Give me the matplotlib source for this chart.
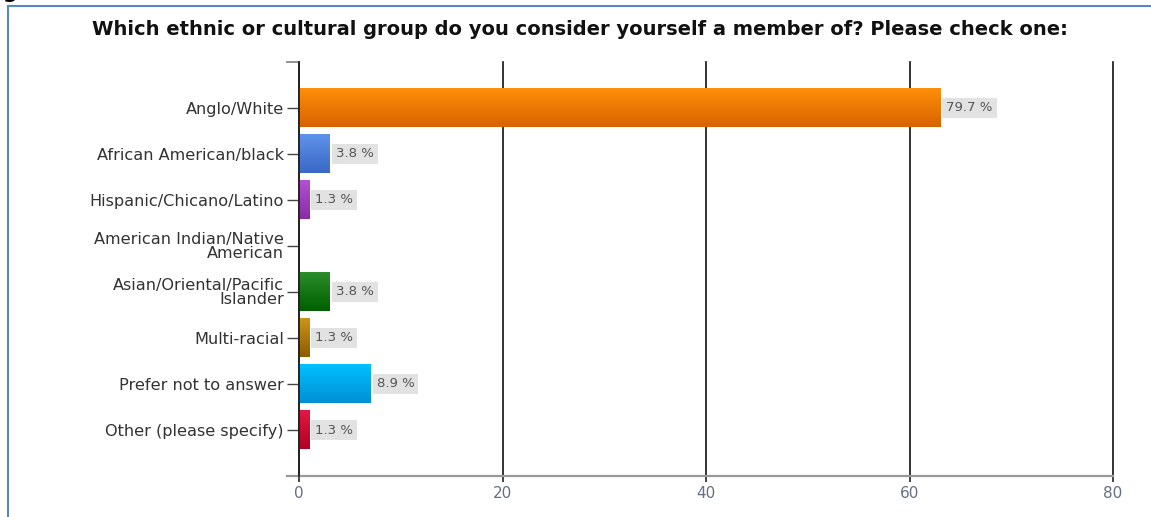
import matplotlib
matplotlib.use('Agg')
import matplotlib.pyplot as plt
import numpy as np
from matplotlib.lines import Line2D

# survey answers (counts) and the shares printed next to the bars
groups = ['Anglo/White', 'African American/black', 'Hispanic/Chicano/Latino',
          'American Indian/Native\nAmerican', 'Asian/Oriental/Pacific\nIslander',
          'Multi-racial', 'Prefer not to answer', 'Other (please specify)']
counts = [63, 3, 1, 0, 3, 1, 7, 1]
percents = ['79.7 %', '3.8 %', '1.3 %', '', '3.8 %', '1.3 %', '8.9 %', '1.3 %']
top_colors = ['#ff8f0a', '#5f92ea', '#b451d4', '#cccccc', '#2a8c2a', '#cc9418', '#00c0ff', '#e41844']
bottom_colors = ['#d86200', '#3a68c6', '#8a2aa6', '#aaaaaa', '#006000', '#8c5c00', '#0090d4', '#b00024']
xticks = [0, 20, 40, 60, 80]

fig = plt.figure(figsize=(11.51, 5.17), dpi=100)
ax = fig.add_axes([0.2598, 0.0793, 0.7072, 0.8008])

y = np.arange(len(groups))
bars = ax.barh(y, counts, height=0.83, color='none', edgecolor='none', zorder=3)

# vertical gradient fill for each bar
for b, c1, c2 in zip(bars, top_colors, bottom_colors):
    if b.get_width() == 0:
        continue
    c1 = np.array(matplotlib.colors.to_rgb(c1))
    c2 = np.array(matplotlib.colors.to_rgb(c2))
    t = np.linspace(0, 1, 64)[:, None]
    grad = (c1 * (1 - t) + c2 * t)[:, None, :]
    x0, y0 = b.get_x(), b.get_y()
    ax.imshow(grad, extent=[x0, x0 + b.get_width(), y0 + b.get_height(), y0],
              aspect='auto', zorder=3, interpolation='bilinear')

for b, p in zip(bars, percents):
    if not p:
        continue
    ax.annotate(p, (b.get_width(), b.get_y() + b.get_height() / 2),
                xytext=(4.5, 0), textcoords='offset points', va='center', ha='left',
                fontsize=9.5, color='#555555', zorder=4,
                bbox=dict(boxstyle='square,pad=0.3', fc='#e2e2e2', ec='none'))

ax.set_xlim(0, 80)
ax.set_ylim(8, -1)
ax.set_aspect('auto')
ax.set_yticks(y)
ax.set_yticklabels(groups, fontsize=11.6, color='#333333', ha='right', linespacing=0.9)
ax.set_xticks(xticks)
ax.set_xticklabels([str(v) for v in xticks], fontsize=11, color='#666e80')
ax.tick_params(axis='y', direction='out', length=9, width=1, color='#444444', pad=2)
ax.tick_params(axis='x', direction='out', length=4, width=1.2, color='#222222', pad=3)

ax.grid(axis='x', color='#111111', linewidth=1.2, zorder=1)
for gl in ax.get_xgridlines():
    gl.set_clip_on(False)
for s in ['top', 'right', 'bottom']:
    ax.spines[s].set_visible(False)
ax.spines['left'].set_color('#222222')
ax.spines['left'].set_linewidth(1.3)
ax.spines['left'].set_zorder(5)

# grey baseline reaching left of the y axis, and the cap at the top
ax.plot([-0.0147, 1], [0, 0], transform=ax.transAxes, color='#999999', lw=1.6,
        clip_on=False, zorder=2)
ax.plot([-0.0147, 0], [1, 1], transform=ax.transAxes, color='#888888', lw=1.3,
        clip_on=False, zorder=2)

fig.text(0.504, 0.942, 'Which ethnic or cultural group do you consider yourself a member of? Please check one:',
         ha='center', va='center', fontsize=14, fontweight='bold', color='#111111')

# page frame and the cut-off caption letter
fig.add_artist(Line2D([0.007, 0.007], [0, 0.988], transform=fig.transFigure, color='#5b86c4', lw=1.5))
fig.add_artist(Line2D([0.007, 1], [0.988, 0.988], transform=fig.transFigure, color='#5b86c4', lw=1.5))
fig.text(0.002, 1.004, 'g', fontsize=15, fontweight='bold', va='baseline', ha='left')

fig.savefig('out.png', dpi=100)
